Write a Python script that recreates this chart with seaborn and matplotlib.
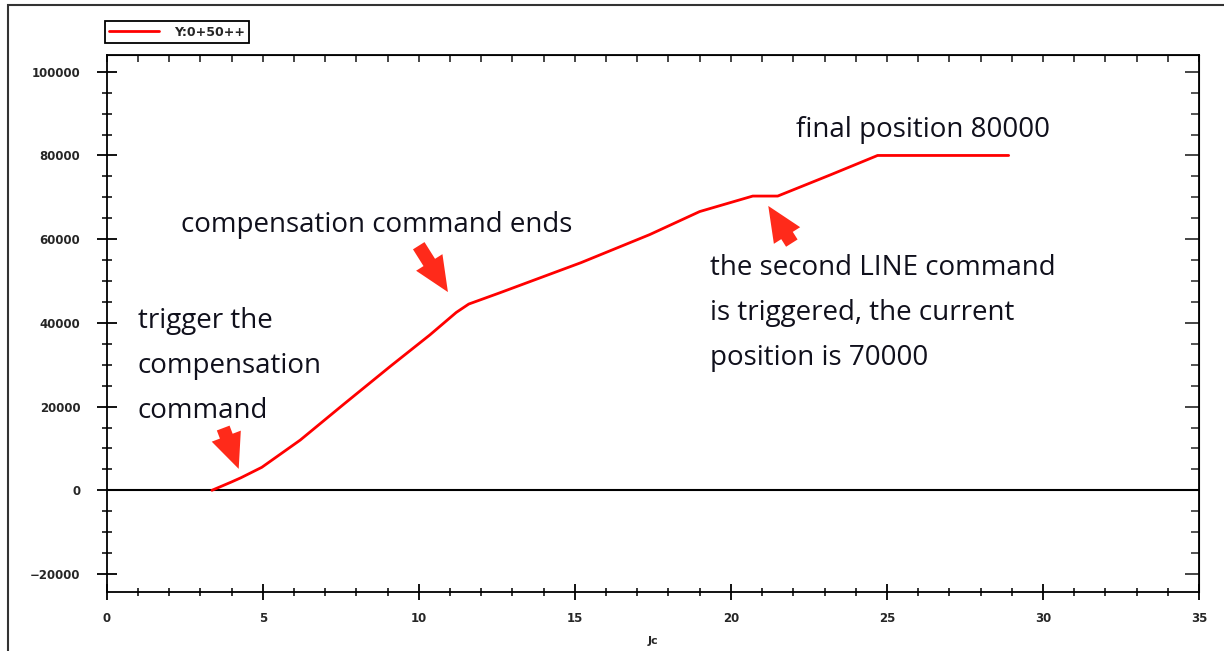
import matplotlib
matplotlib.use("Agg")
import matplotlib.pyplot as plt
import seaborn as sns
import pandas as pd
from matplotlib.ticker import MultipleLocator
from matplotlib.patches import Rectangle

# position trace
time_s = [3.37, 4.0, 4.3, 4.97, 6.2, 7.6, 9.1, 10.35, 11.2, 11.6, 12.6, 13.9,
          15.2, 17.4, 19.0, 20.7, 21.5, 23.2, 24.7, 28.9]
position = [0, 2000, 3000, 5500, 12000, 20600, 29700, 37100, 42500, 44500,
            47200, 50800, 54400, 61100, 66600, 70300, 70300, 75400, 80000, 80000]

legend_label = "Y:0+50++"
x_ticks = [0, 5, 10, 15, 20, 25, 30, 35]
y_ticks = [-20000, 0, 20000, 40000, 60000, 80000, 100000]

df = pd.DataFrame({"t": time_s, "pos": position})

sns.set_style("white")
plt.rcParams["font.family"] = ["DejaVu Sans"]

fig = plt.figure(figsize=(12.24, 6.51), dpi=100)
ax = fig.add_axes([0.0872, 0.0906, 0.8924, 0.8249])

ax.axhline(0, color="black", lw=1.5, zorder=1)
sns.lineplot(data=df, x="t", y="pos", color="red", lw=2, ax=ax, label=legend_label, zorder=3)

ax.set_xlim(0, 35)
ax.set_ylim(-24300, 104000)
ax.set_xticks(x_ticks)
ax.set_yticks(y_ticks)
ax.xaxis.set_minor_locator(MultipleLocator(1))
ax.yaxis.set_minor_locator(MultipleLocator(5000))
ax.tick_params(which="both", bottom=True, left=True, top=False, right=False)
ax.tick_params(which="major", direction="inout", length=14, width=1.3, labelsize=8.5,
               color="black")
ax.tick_params(which="minor", direction="inout", length=7, width=1.1, color="black")
ax.tick_params(axis="x", which="major", length=11, pad=9)
ax.tick_params(axis="x", which="minor", length=6)
ax.tick_params(axis="y", pad=12)
for lab in ax.get_xticklabels() + ax.get_yticklabels():
    lab.set_fontweight("bold")
ax.set_xlabel("Jc", fontsize=8, fontweight="bold", va="center")
ax.xaxis.set_label_coords(0.5, -0.092)
ax.set_ylabel("")
for s in ax.spines.values():
    s.set_color("black")
    s.set_linewidth(1.3)

# inward ticks on top and right
top = ax.secondary_xaxis("top")
top.set_xticks(range(0, 36))
top.tick_params(top=True, direction="in", length=5, width=1.2, labeltop=False)
right = ax.secondary_yaxis("right")
right.set_yticks(y_ticks)
right.yaxis.set_minor_locator(MultipleLocator(5000))
right.tick_params(which="both", right=True, labelright=False)
right.tick_params(which="major", direction="in", length=10, width=1.2)
right.tick_params(which="minor", direction="in", length=6, width=1.1)

leg = ax.legend(loc="lower left", bbox_to_anchor=(-0.002, 1.022), fancybox=False,
                edgecolor="black", framealpha=1, fontsize=9, handlelength=4,
                handletextpad=1.2, borderpad=0.35, borderaxespad=0)
leg.get_frame().set_linewidth(1.3)
for t in leg.get_texts():
    t.set_fontweight("bold")

txt = dict(fontsize=20, color="#10101c", family=["Open Sans", "DejaVu Sans"], va="center")
ax.text(0.99, 29700, "trigger the\ncompensation\ncommand", linespacing=1.8, **txt)
ax.text(2.37, 63500, "compensation command ends", **txt)
ax.text(19.33, 42400, "the second LINE command\nis triggered, the current\nposition is 70000",
        linespacing=1.8, **txt)
ax.text(22.1, 86200, "final position 80000", **txt)

arrow = dict(arrowstyle="simple,head_length=0.9,head_width=0.8,tail_width=0.35",
             mutation_scale=28, color="#ff2a1a", lw=0)
ax.annotate("", xy=(4.26, 4500), xytext=(3.7, 15500), arrowprops=arrow)
ax.annotate("", xy=(10.98, 46800), xytext=(9.95, 59000), arrowprops=arrow)
ax.annotate("", xy=(21.15, 68500), xytext=(22.0, 58500), arrowprops=arrow)

# outer frame of the screenshot
fig.patches.append(Rectangle((8 / 1224, -0.5), 1.5, 0.5 + 1 - 5 / 651,
                             transform=fig.transFigure, fill=False,
                             edgecolor="#333333", lw=1.5))

fig.savefig("out.png", dpi=100)
